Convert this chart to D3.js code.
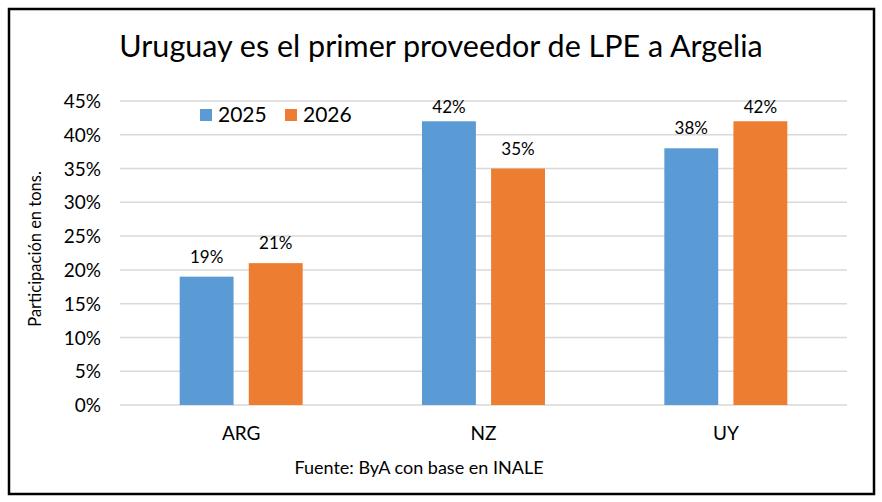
<!DOCTYPE html>
<html>
<head>
<meta charset="utf-8">
<script src="https://cdn.jsdelivr.net/npm/d3@7"></script>
<style>
  body { margin: 0; background: #fff; }
  svg text { font-family: Lato, "Open Sans", sans-serif; fill: #000; }
</style>
</head>
<body>
<svg id="chart" width="882" height="502"></svg>
<script>
var categories = ["ARG", "NZ", "UY"];
var seriesNames = ["2025", "2026"];
var values2025 = [0.19, 0.42, 0.38];
var values2026 = [0.21, 0.35, 0.42];
var yTicks = [0, 0.05, 0.10, 0.15, 0.20, 0.25, 0.30, 0.35, 0.40, 0.45];
var colors = ["#5b9bd5", "#ed7d31"];

var svg = d3.select("#chart");

// frame
svg.append("rect")
	.attr("x", 9).attr("y", 9)
	.attr("width", 865).attr("height", 485)
	.attr("fill", "#fff")
	.attr("stroke", "#000")
	.attr("stroke-width", 2.5);

var plotLeft = 120, plotRight = 847, plotTop = 101, plotBottom = 405;

var x = d3.scaleBand().domain(categories).range([plotLeft, plotRight]);
var xInner = d3.scaleBand().domain(seriesNames).range([0, 123]).paddingInner(0.22);
var y = d3.scaleLinear().domain([0, 0.45]).range([plotBottom, plotTop]);

// gridlines
svg.append("g").selectAll("line")
	.data(yTicks)
	.enter().append("line")
	.attr("x1", plotLeft).attr("x2", plotRight)
	.attr("y1", function(d) { return y(d); })
	.attr("y2", function(d) { return y(d); })
	.attr("stroke", "#d9d9d9")
	.attr("stroke-width", 1.5);

// y axis labels
var yAxis = d3.axisLeft(y).tickValues(yTicks).tickFormat(d3.format(".0%")).tickSize(0).tickPadding(0);
var gy = svg.append("g").attr("transform", "translate(101,0)").call(yAxis);
gy.select(".domain").remove();
gy.selectAll("text").style("font-size", "19px").attr("dy", "0.35em");

// x axis labels
var xAxis = d3.axisBottom(x).tickSize(0).tickPadding(0);
var gx = svg.append("g").attr("transform", "translate(0,426)").call(xAxis);
gx.select(".domain").remove();
gx.selectAll("text").style("font-size", "19px").attr("dy", "0.71em");

var data = [];
categories.forEach(function(c, i) {
	data.push({ cat: c, series: "2025", value: values2025[i] });
	data.push({ cat: c, series: "2026", value: values2026[i] });
});

var groupOffset = (x.bandwidth() - 123) / 2;

svg.append("g").selectAll("rect")
	.data(data)
	.enter().append("rect")
	.attr("x", function(d) { return x(d.cat) + groupOffset + xInner(d.series); })
	.attr("y", function(d) { return y(d.value); })
	.attr("width", xInner.bandwidth())
	.attr("height", function(d) { return plotBottom - y(d.value); })
	.attr("fill", function(d) { return colors[seriesNames.indexOf(d.series)]; });

svg.append("g").selectAll("text")
	.data(data)
	.enter().append("text")
	.attr("x", function(d) { return x(d.cat) + groupOffset + xInner(d.series) + xInner.bandwidth() / 2; })
	.attr("y", function(d) { return Math.max(y(d.value) - 14, 113); })
	.attr("text-anchor", "middle")
	.style("font-size", "17px")
	.text(function(d) { return Math.round(d.value * 100) + "%"; });

// title
svg.append("text")
	.attr("x", 441).attr("y", 57)
	.attr("text-anchor", "middle")
	.style("font-size", "30.5px")
	.text("Uruguay es el primer proveedor de LPE a Argelia");

// y axis title
svg.append("text")
	.attr("transform", "translate(41,249) rotate(-90)")
	.attr("text-anchor", "middle")
	.style("font-size", "16.5px")
	.text("Participación en tons.");

// legend
var legend = svg.append("g").selectAll("g")
	.data(seriesNames)
	.enter().append("g")
	.attr("transform", function(d, i) { return "translate(" + (200 + i * 85) + ",109)"; });
legend.append("rect")
	.attr("width", 12).attr("height", 12)
	.attr("fill", function(d, i) { return colors[i]; });
legend.append("text")
	.attr("x", 18).attr("y", 13)
	.style("font-size", "21px")
	.text(function(d) { return d; });

// source
svg.append("text")
	.attr("x", 419).attr("y", 474)
	.attr("text-anchor", "middle")
	.style("font-size", "18px")
	.text("Fuente: ByA con base en INALE");
</script>
</body>
</html>
